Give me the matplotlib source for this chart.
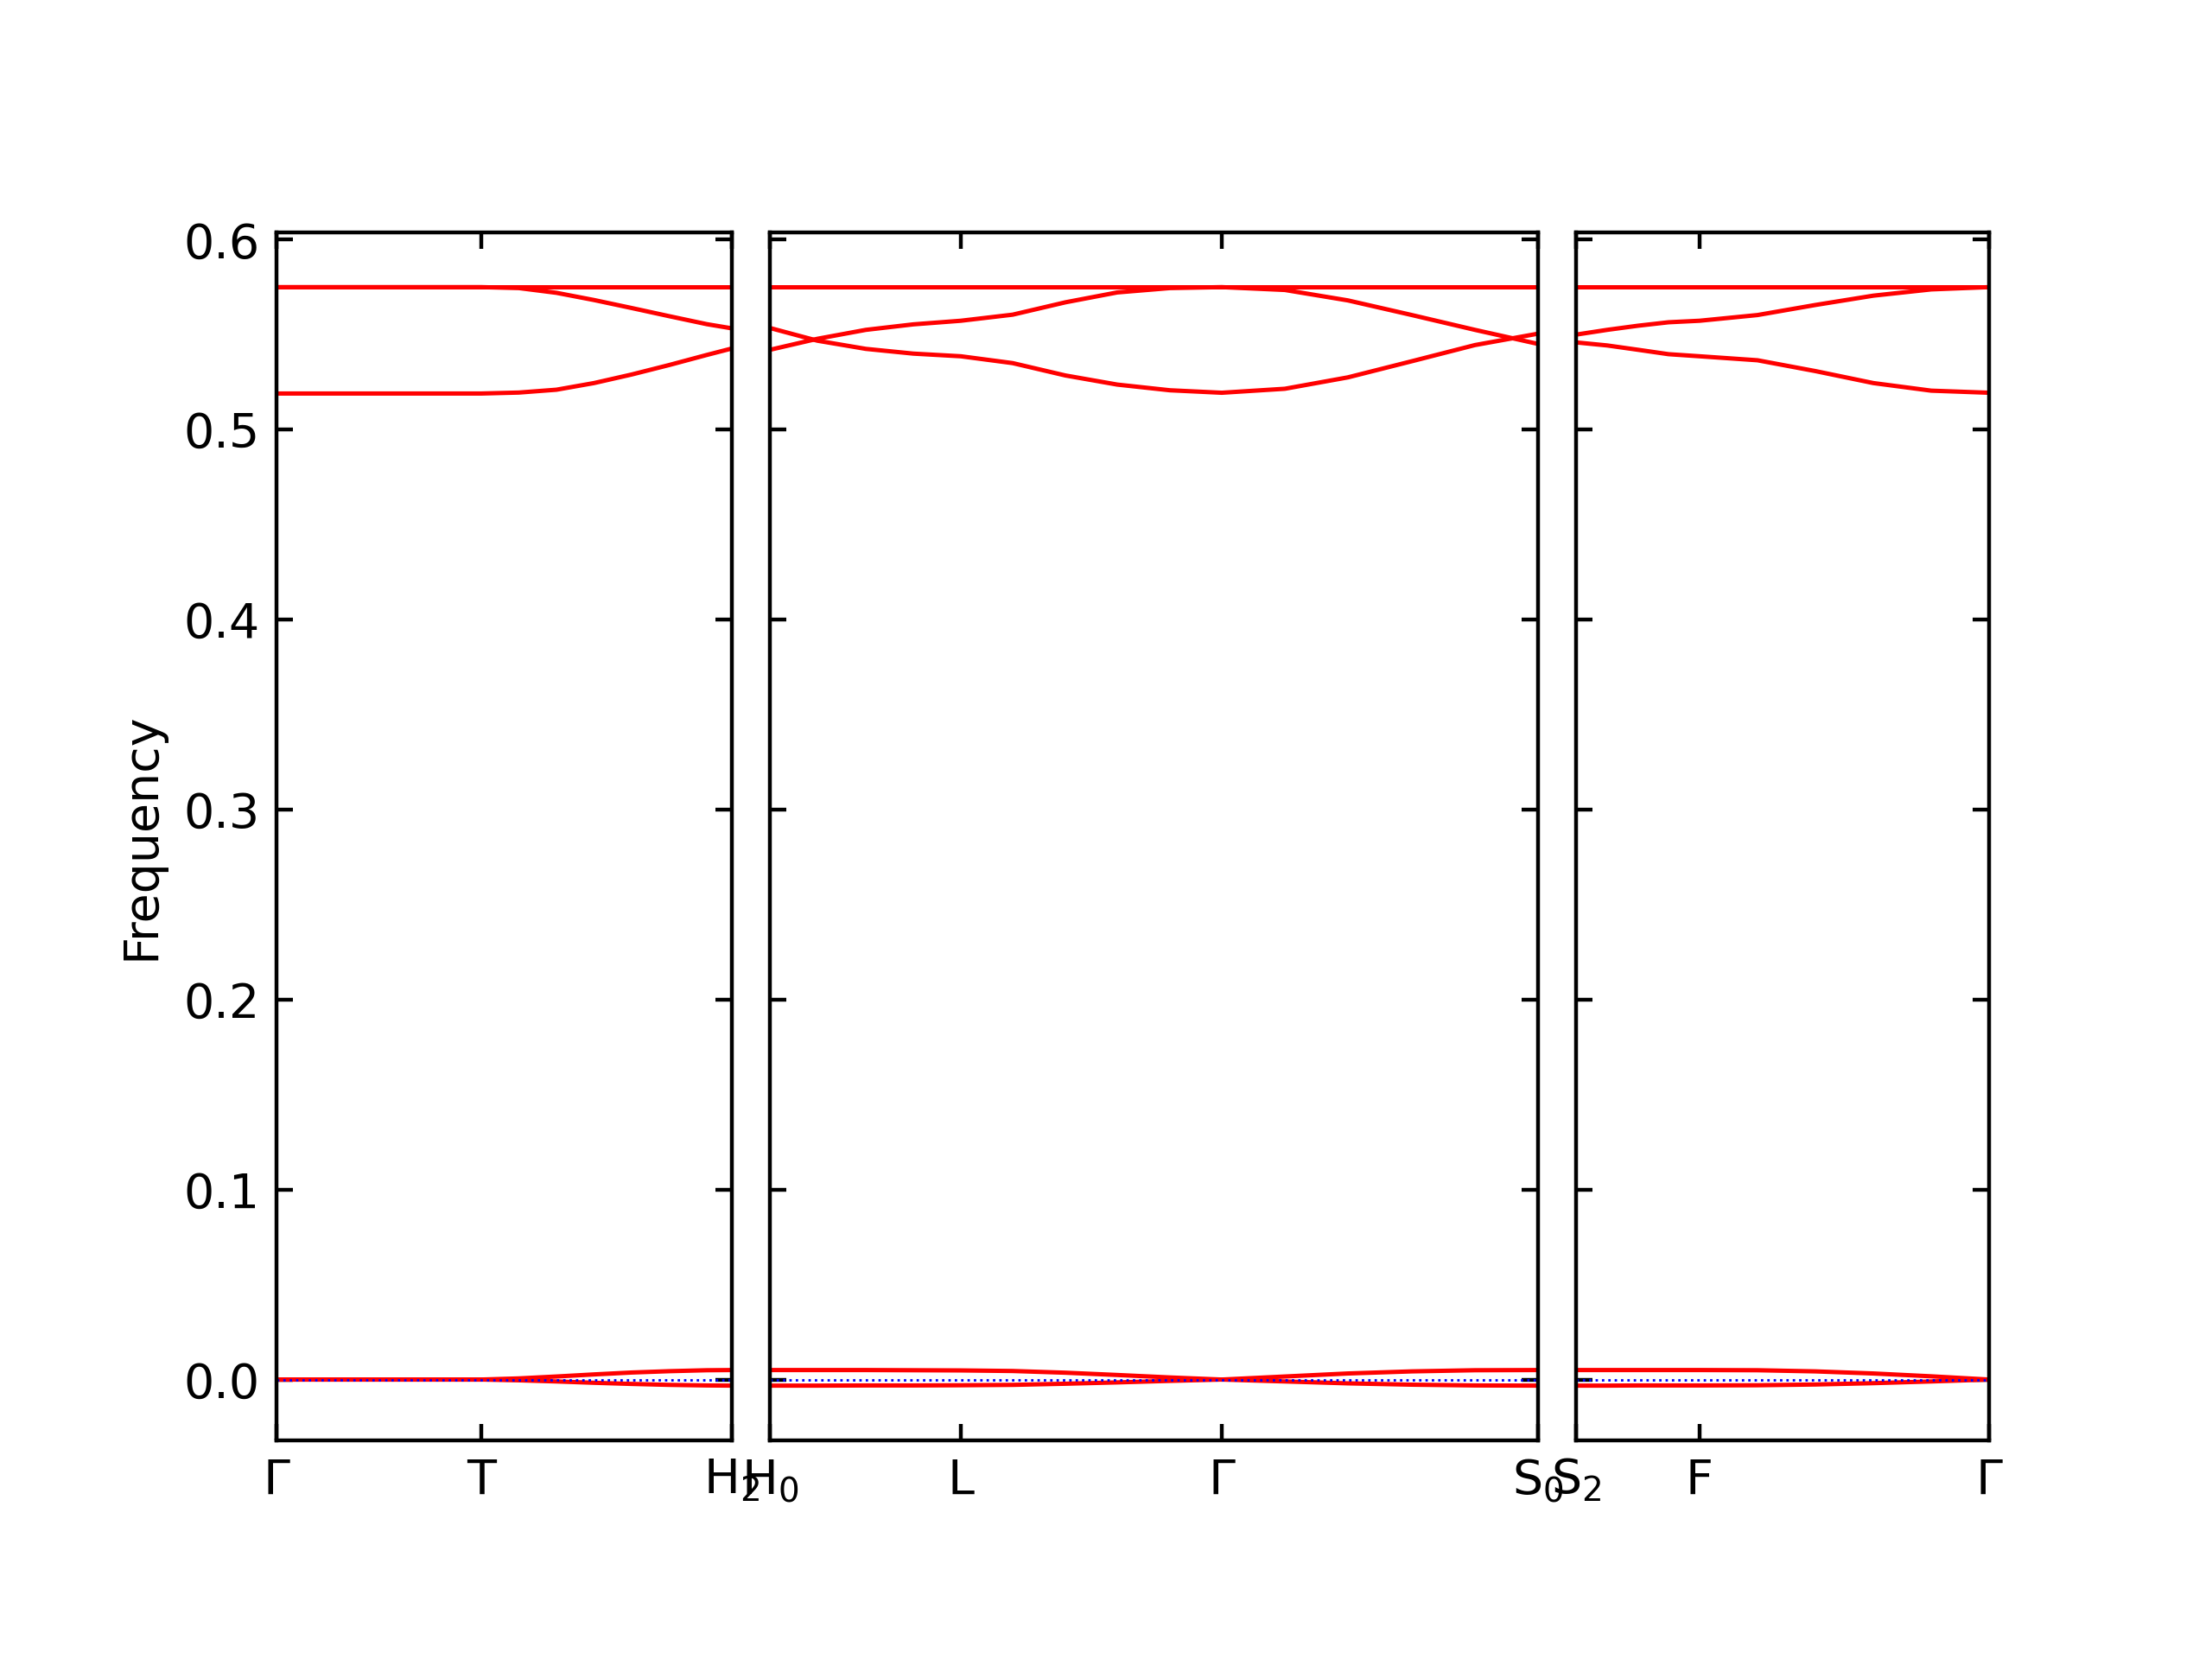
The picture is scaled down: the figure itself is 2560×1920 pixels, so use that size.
import numpy as np
import matplotlib
matplotlib.use("Agg")
import matplotlib.pyplot as plt

# ---- q-path distances (one array per panel) ----
p1_x = [0.000, 0.237, 0.2805, 0.324, 0.3675, 0.411, 0.4545, 0.498, 0.527]
p2_x = [0.000, 0.055, 0.111, 0.166, 0.221, 0.281, 0.342, 0.402, 0.463, 0.523,
        0.596, 0.669, 0.743, 0.816, 0.889]
p3_x = [0.000, 0.036, 0.072, 0.107, 0.143, 0.210, 0.277, 0.344, 0.411, 0.478]

# ---- band frequencies ----
# panel 1: Gamma - T - H2
p1_top = [0.575, 0.575, 0.575, 0.575, 0.575, 0.575, 0.575, 0.575, 0.575]
p1_desc = [0.575, 0.575, 0.5745, 0.5720, 0.5682, 0.5640, 0.5597, 0.5555, 0.5533]
p1_asc = [0.519, 0.519, 0.5195, 0.5210, 0.5245, 0.5290, 0.5340, 0.5393, 0.5427]
p1_ac_up = [0.0, 0.0, 0.0006, 0.0016, 0.0027, 0.0037, 0.0044, 0.0049, 0.0050]
p1_ac_dn = [0.0, 0.0, -0.0004, -0.0010, -0.0017, -0.0023, -0.0028, -0.0031, -0.0032]

# panel 2: H0 - L - Gamma - S0
p2_top = [0.575] * 15
p2_a = [0.542, 0.5478, 0.5525, 0.5554, 0.5573, 0.5605, 0.5670, 0.5722, 0.5745, 0.575,
        0.5735, 0.5680, 0.5603, 0.5525, 0.5451]
p2_b = [0.5535, 0.5468, 0.5425, 0.5400, 0.5386, 0.5350, 0.5285, 0.5237, 0.5207, 0.5194,
        0.5215, 0.5275, 0.5360, 0.5445, 0.5505]
p2_ac_up = [0.0050, 0.0050, 0.0050, 0.0049, 0.0048, 0.0045, 0.0036, 0.0024, 0.0011, 0.0,
            0.0016, 0.0032, 0.0043, 0.0049, 0.0050]
p2_ac_dn = [-0.0032, -0.0032, -0.0031, -0.0031, -0.0030, -0.0028, -0.0022, -0.0015, -0.0007, 0.0,
            -0.0010, -0.0020, -0.0027, -0.0031, -0.0032]

# panel 3: S2 - F - Gamma
p3_top = [0.575] * 10
p3_up = [0.550, 0.5525, 0.5547, 0.5565, 0.5573, 0.5603, 0.5656, 0.5705, 0.5738, 0.575]
p3_dn = [0.5459, 0.5443, 0.5420, 0.5397, 0.5386, 0.5365, 0.5308, 0.5245, 0.5205, 0.5194]
p3_ac_up = [0.0050, 0.0050, 0.0050, 0.0050, 0.0050, 0.0049, 0.0043, 0.0032, 0.0017, 0.0]
p3_ac_dn = [-0.0032, -0.0032, -0.0031, -0.0031, -0.0031, -0.0030, -0.0026, -0.0019, -0.0010, 0.0]

# ---- special points ----
p1_ticks = [0.0, 0.237, 0.527]
p1_labels = [r'$\Gamma$', 'T', r'$\mathrm{H_2}$']
p2_ticks = [0.0, 0.221, 0.523, 0.889]
p2_labels = [r'$\mathrm{H_0}$', 'L', r'$\Gamma$', r'$\mathrm{S_0}$']
p3_ticks = [0.0, 0.143, 0.478]
p3_labels = [r'$\mathrm{S_2}$', 'F', r'$\Gamma$']

panels = [
    (p1_x, [p1_top, p1_desc, p1_asc, p1_ac_up, p1_ac_dn], p1_ticks, p1_labels),
    (p2_x, [p2_top, p2_a, p2_b, p2_ac_up, p2_ac_dn], p2_ticks, p2_labels),
    (p3_x, [p3_top, p3_up, p3_dn, p3_ac_up, p3_ac_dn], p3_ticks, p3_labels),
]

ylim = (-0.032, 0.6037)

fig = plt.figure(figsize=(6.4, 4.8), dpi=400)

# axes geometry (figure fractions)
left, bottom, height = 0.125, 0.1318, 0.728
gap = 44 / 2560
scale = 1000 / 2560   # figure fraction per unit of path length

x0 = left
for i, (x, bands, ticks, labels) in enumerate(panels):
    w = (x[-1] - x[0]) * scale
    ax = fig.add_axes([x0, bottom, w, height])
    x0 += w + gap

    for b in bands:
        ax.plot(x, b, color='r', linewidth=0.9)
    ax.axhline(y=0, linestyle=':', linewidth=0.5, color='b')

    ax.set_xlim(x[0], x[-1])
    ax.set_ylim(*ylim)
    ax.set_xticks(ticks)
    ax.set_xticklabels(labels)
    ax.set_yticks(np.arange(0.0, 0.61, 0.1))
    ax.tick_params(direction='in', top=True, right=True, labelsize=10)
    if i == 0:
        ax.set_yticklabels([f'{v:.1f}' for v in np.arange(0.0, 0.61, 0.1)])
        ax.set_ylabel('Frequency')
    else:
        ax.tick_params(labelleft=False)

plt.savefig('out.png', dpi=400)
